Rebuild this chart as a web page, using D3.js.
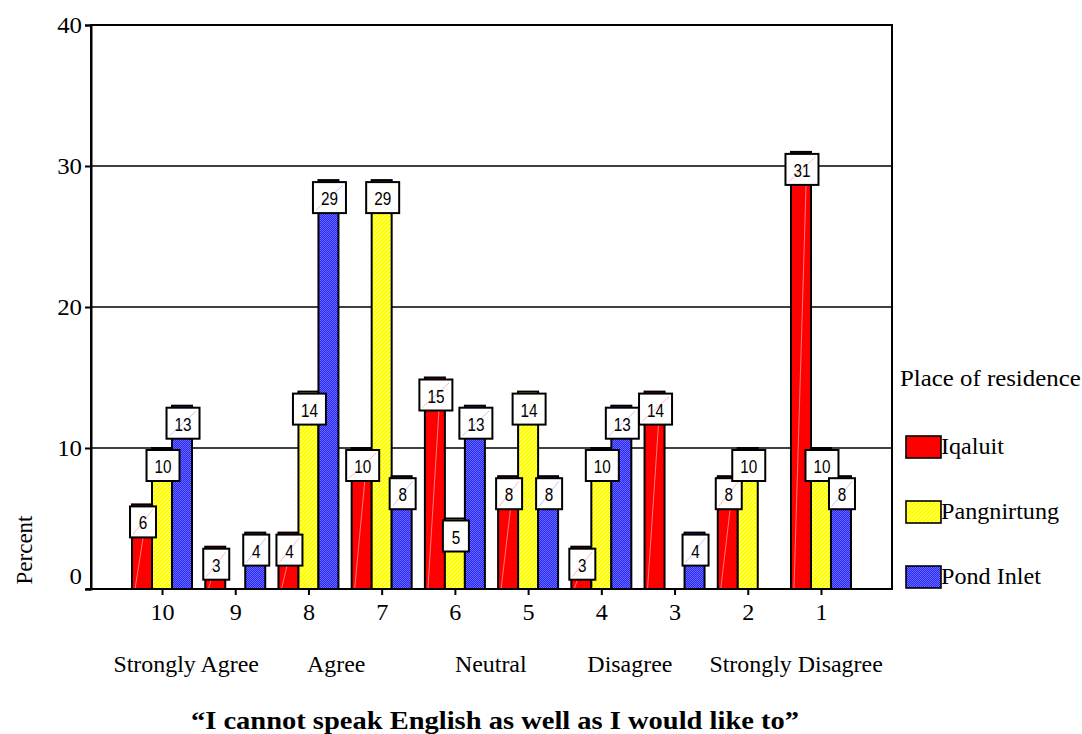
<!DOCTYPE html>
<html>
<head>
<meta charset="utf-8">
<script src="https://cdn.jsdelivr.net/npm/d3@7"></script>
<style>
  html, body { margin: 0; padding: 0; background: #fff; }
  svg { display: block; }
</style>
</head>
<body>
<svg id="chart" width="1082" height="734"></svg>
<script>
// Response categories on the 10-point scale (10 = strongly agree)
const categories = ["10", "9", "8", "7", "6", "5", "4", "3", "2", "1"];
const series = ["Iqaluit", "Pangnirtung", "Pond Inlet"];
// Percent of respondents per community, in category order
const iqaluit     = [6, 3, 4, 10, 15, 8, 3, 14, 8, 31];
const pangnirtung = [10, 0, 14, 29, 5, 14, 10, 0, 10, 10];
const pondInlet   = [13, 4, 29, 8, 13, 8, 13, 4, 0, 8];
const yTicks = [0, 10, 20, 30, 40];
// Verbal anchors printed under the numeric scale
const anchorLabels = ["Strongly Agree", "Agree", "Neutral", "Disagree", "Strongly Disagree"];
const anchorIndex = [0.33, 2.38, 4.49, 6.39, 8.66];

const title = "\u201cI cannot speak English as well as I would like to\u201d";
const yTitle = "Percent";
const legendTitle = "Place of residence";

const values = [iqaluit, pangnirtung, pondInlet];
const colors = ["#ff0000", "#ffff00", "#2a2aff"];

const serif = "'Liberation Serif', 'Times New Roman', Times, serif";
const sans = "'Liberation Sans', Arial, Helvetica, sans-serif";

const svg = d3.select("#chart");
const plot = { left: 91, right: 892, top: 25, bottom: 589 };

// The serif text is set slightly wide; stretch each string to its measured width
function widen(sel, factor) {
  sel.each(function () {
    const w = this.getComputedTextLength();
    d3.select(this).attr("textLength", w * factor).attr("lengthAdjust", "spacingAndGlyphs");
  });
}

// Fill patterns for the bars
const defs = svg.append("defs");
const hatch = defs.append("pattern")
  .attr("id", "fill-yellow").attr("patternUnits", "userSpaceOnUse")
  .attr("width", 4).attr("height", 4);
hatch.append("rect").attr("width", 4).attr("height", 4).attr("fill", "#ffff00");
hatch.append("path").attr("d", "M-1,1 L1,-1 M0,4 L4,0 M3,5 L5,3")
  .attr("stroke", "#ffff9a").attr("stroke-width", 1);

const dots = defs.append("pattern")
  .attr("id", "fill-blue").attr("patternUnits", "userSpaceOnUse")
  .attr("width", 2).attr("height", 2);
dots.append("rect").attr("width", 2).attr("height", 2).attr("fill", "#2626ff");
dots.append("rect").attr("width", 1).attr("height", 1).attr("fill", "#6a6aff");
dots.append("rect").attr("x", 1).attr("y", 1).attr("width", 1).attr("height", 1).attr("fill", "#6a6aff");

const fills = ["#ff0000", "url(#fill-yellow)", "url(#fill-blue)"];

// Scales
const x = d3.scalePoint().domain(categories).range([plot.left, plot.right]).padding(0.97);
const xs = d3.scaleBand().domain(series).range([-30, 30]).padding(0);
const y = d3.scaleLinear().domain([0, 40]).range([plot.bottom, plot.top]);
const yIdx = d3.scaleLinear().domain([0, categories.length - 1]).range([x(categories[0]), x(categories[categories.length - 1])]);

// Horizontal grid lines
svg.append("g")
  .selectAll("line")
  .data(yTicks.filter(t => t > 0 && t < 40))
  .join("line")
  .attr("x1", plot.left).attr("x2", plot.right)
  .attr("y1", d => y(d)).attr("y2", d => y(d))
  .attr("stroke", "#000").attr("stroke-width", 1.6);

// Bars
const bars = [];
series.forEach((s, si) => {
  values[si].forEach((v, ci) => {
    bars.push({ s, si, cat: categories[ci], v });
  });
});
const shown = bars.filter(d => d.v > 0);

svg.append("g")
  .selectAll("rect")
  .data(shown)
  .join("rect")
  .attr("x", d => x(d.cat) + xs(d.s))
  .attr("y", d => y(d.v))
  .attr("width", xs.bandwidth())
  .attr("height", d => y(0) - y(d.v))
  .attr("fill", d => fills[d.si])
  .attr("stroke", "#000")
  .attr("stroke-width", 2);

// Faint streak across the red bars
svg.append("g")
  .selectAll("line")
  .data(shown.filter(d => d.si === 0))
  .join("line")
  .attr("x1", d => x(d.cat) + xs(d.s) + 3)
  .attr("y1", y(0))
  .attr("x2", d => x(d.cat) + xs(d.s) + xs.bandwidth() - 4)
  .attr("y2", d => y(d.v) + 2)
  .attr("stroke", "#ff9a9a").attr("stroke-width", 0.8);

// Value labels in boxes just under the bar tops
const boxW = d => String(d.v).length > 1 ? 33 : 26;
const lab = svg.append("g")
  .selectAll("g")
  .data(shown)
  .join("g")
  .attr("transform", d => {
    const cx = x(d.cat) + xs(d.s) + xs.bandwidth() / 2 + 1;
    return `translate(${cx - boxW(d) / 2},${y(d.v) + 2})`;
  });
lab.append("rect")
  .attr("width", boxW)
  .attr("height", 31)
  .attr("fill", "#fff")
  .attr("stroke", "#000")
  .attr("stroke-width", 2);
lab.append("line")
  .attr("x1", 3).attr("y1", 28)
  .attr("x2", d => boxW(d) - 3).attr("y2", 3)
  .attr("stroke", d => colors[d.si]).attr("stroke-opacity", 0.35).attr("stroke-width", 0.8);
lab.append("text")
  .attr("x", d => boxW(d) / 2)
  .attr("y", 23)
  .attr("text-anchor", "middle")
  .attr("font-family", sans)
  .attr("font-size", 18)
  .attr("fill", "#000")
  .text(d => d.v)
  .call(widen, 0.85);

// Plot frame
svg.append("rect")
  .attr("x", plot.left).attr("y", plot.top)
  .attr("width", plot.right - plot.left).attr("height", plot.bottom - plot.top)
  .attr("fill", "none").attr("stroke", "#000").attr("stroke-width", 2);

// Y axis
const yAxis = svg.append("g")
  .attr("transform", `translate(${plot.left},0)`)
  .call(d3.axisLeft(y).tickValues(yTicks).tickSize(6).tickPadding(3).tickFormat(d3.format("d")));
yAxis.select(".domain").attr("stroke-width", 2);
yAxis.selectAll(".tick line").attr("stroke-width", 2);
yAxis.selectAll(".tick text")
  .attr("font-family", serif).attr("font-size", 23).attr("fill", "#000")
  .attr("dy", d => d === 0 ? "-0.25em" : "0.33em")
  .call(widen, 1.08);

// X axis
const xAxis = svg.append("g")
  .attr("transform", `translate(0,${plot.bottom})`)
  .call(d3.axisBottom(x).tickSize(6).tickPadding(9));
xAxis.select(".domain").attr("stroke-width", 2).attr("d", `M${plot.left - 5},0H${plot.right}`);
xAxis.selectAll(".tick line").attr("stroke-width", 2);
xAxis.selectAll(".tick text")
  .attr("font-family", serif).attr("font-size", 23).attr("fill", "#000")
  .call(widen, 1.05);

// Verbal anchors
svg.append("g")
  .selectAll("text")
  .data(anchorLabels)
  .join("text")
  .attr("x", (d, i) => yIdx(anchorIndex[i]))
  .attr("y", 672)
  .attr("text-anchor", "middle")
  .attr("font-family", serif).attr("font-size", 23)
  .text(d => d)
  .call(widen, 1.04);

// Chart title under the axis
svg.append("text")
  .attr("x", 495).attr("y", 729)
  .attr("text-anchor", "middle")
  .attr("font-family", serif).attr("font-size", 25).attr("font-weight", "bold")
  .text(title)
  .call(widen, 1.14);

// Y axis title
svg.append("text")
  .attr("transform", "translate(32,550) rotate(-90)")
  .attr("text-anchor", "middle")
  .attr("font-family", serif).attr("font-size", 23)
  .text(yTitle)
  .call(widen, 1.0);

// Legend
const legend = svg.append("g");
legend.append("text")
  .attr("x", 900).attr("y", 386)
  .attr("font-family", serif).attr("font-size", 23)
  .text(legendTitle)
  .call(widen, 1.08);
const items = legend.selectAll("g.item")
  .data(series)
  .join("g").attr("class", "item")
  .attr("transform", (d, i) => `translate(906,${436 + i * 65})`);
items.append("rect")
  .attr("width", 35).attr("height", 22)
  .attr("fill", (d, i) => fills[i])
  .attr("stroke", "#000").attr("stroke-width", 1.6);
items.append("text")
  .attr("x", 35).attr("y", 18)
  .attr("font-family", serif).attr("font-size", 23)
  .text(d => d)
  .call(widen, 1.05);
</script>
</body>
</html>
